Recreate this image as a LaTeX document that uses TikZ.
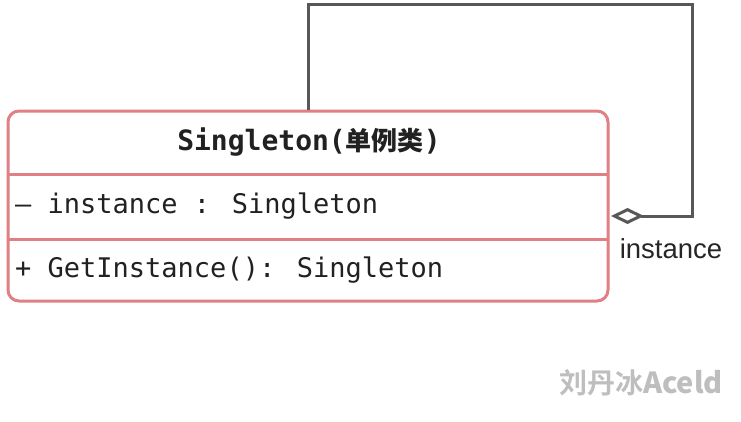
\documentclass[tikz,border=0pt]{standalone}
\usepackage{fontspec}
\usetikzlibrary{arrows.meta}
\setmainfont{Liberation Sans}
\newfontfamily\monof{DejaVu Sans Mono}
\newfontfamily\cjkf{Noto Sans CJK SC}
\newfontfamily\cjkbf{Noto Sans CJK SC Bold}
\definecolor{pinkline}{RGB}{224,128,132}
\definecolor{darkline}{RGB}{88,88,88}
\definecolor{wmgray}{RGB}{190,190,190}
\begin{document}
\begin{tikzpicture}[x=1pt,y=-1pt,
  classbox/.style={draw=pinkline,line width=3pt,rounded corners=11pt,fill=white,minimum width=600pt,minimum height=190pt,inner sep=0pt},
  member/.style={anchor=west,inner sep=0pt,font=\monof\fontsize{27}{30}\selectfont,text=black!87},
  conn/.style={draw=darkline,line width=3pt},
  lbl/.style={inner sep=0pt,font=\fontsize{27.5}{30}\selectfont,text=black!85}]
\useasboundingbox (0,0) rectangle (741,421);
\node[classbox] (cls) at (308,206) {};
\draw[pinkline,line width=3pt] (8,174) -- (608,174);
\draw[pinkline,line width=3pt] (8,239) -- (608,239);
\node[inner sep=0pt,text=black!87] (title) at (309,142) {\monof\bfseries\fontsize{28}{30}\selectfont Singleton(\cjkbf\fontsize{26}{30}\selectfont 单例类\monof\bfseries\fontsize{28}{30}\selectfont)};
\node[member] (attr) at (15,206) {– instance : Singleton};
\node[member] (meth) at (15,270) {+ GetInstance(): Singleton};
\coordinate (c1) at (308,4);
\coordinate (c2) at (692,4);
\coordinate (c3) at (692,216);
\coordinate (tipend) at (611,216);
\draw[conn,line join=miter,-{Diamond[open,length=33pt,width=16pt,line width=3pt]}] (cls.north) -- (c1) -- (c2) -- (c3) -- (tipend);
\node[lbl] (ilabel) at (671,249) {instance};
\node[inner sep=0pt,text=wmgray] (wm) at (641,383) {\cjkbf\fontsize{28}{30}\selectfont 刘丹冰\bfseries\fontsize{29}{30}\selectfont Aceld};
\end{tikzpicture}
\end{document}
